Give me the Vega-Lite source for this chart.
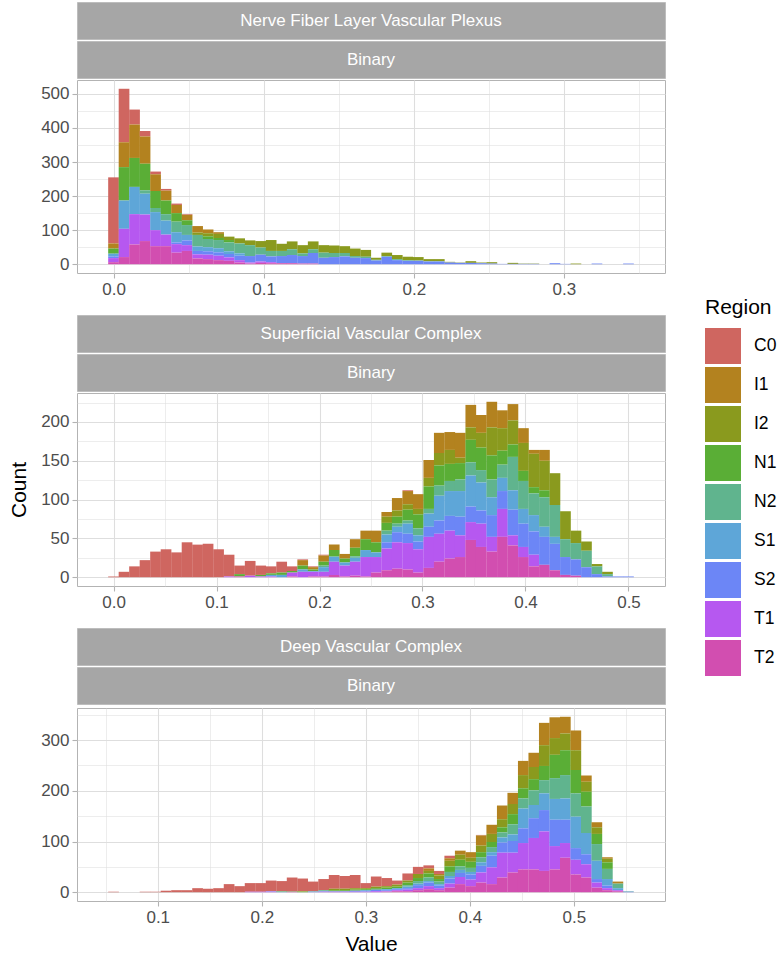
{
"$schema": "https://vega.github.io/schema/vega-lite/v6.json",
"padding": {"left": 7, "top": 1, "right": 0, "bottom": 0},
"spacing": 14,
"config": {
 "font": "Liberation Sans",
 "view": {"stroke": "#B3B3B3", "strokeWidth": 1},
 "axis": {"domain": false, "tickColor": "#B3B3B3", "tickSize": 5, "tickWidth": 1.1, "labelColor": "#4D4D4D", "labelFontSize": 17, "labelPadding": 3, "gridColor": "#DEDEDE", "titleFontSize": 21, "titleFontWeight": "normal", "titleColor": "#000000", "labelOverlap": false, "labelFlush": false},
 "legend": {"orient": "none", "legendX": 628, "legendY": 295, "symbolType": "square", "symbolSize": 1296, "symbolStrokeWidth": 0, "rowPadding": 3, "labelFontSize": 17.5, "labelColor": "#000000", "labelOffset": 13, "titleFontSize": 21, "titleFontWeight": "normal", "titleColor": "#000000", "titlePadding": 10}
},
"datasets": {
"p1": [
{"x":0,"r":"C0","c":194},{"x":0,"r":"I1","c":15},{"x":0,"r":"N1","c":15},{"x":0,"r":"S1","c":8},{"x":0,"r":"S2","c":5},{"x":0,"r":"T1","c":12},{"x":0,"r":"T2","c":6},
{"x":0.007,"r":"C0","c":157},{"x":0.007,"r":"I1","c":73},{"x":0.007,"r":"N1","c":98},{"x":0.007,"r":"S1","c":83},{"x":0.007,"r":"T1","c":83},{"x":0.007,"r":"T2","c":21},
{"x":0.014,"r":"C0","c":44},{"x":0.014,"r":"I1","c":98},{"x":0.014,"r":"N1","c":85},{"x":0.014,"r":"S1","c":80},{"x":0.014,"r":"T1","c":89},{"x":0.014,"r":"T2","c":58},
{"x":0.021,"r":"C0","c":16},{"x":0.021,"r":"I1","c":80},{"x":0.021,"r":"N1","c":78},{"x":0.021,"r":"N2","c":10},{"x":0.021,"r":"S1","c":61},{"x":0.021,"r":"T1","c":78},{"x":0.021,"r":"T2","c":68},
{"x":0.028,"r":"C0","c":8},{"x":0.028,"r":"I1","c":49},{"x":0.028,"r":"N1","c":50},{"x":0.028,"r":"N2","c":12},{"x":0.028,"r":"S1","c":53},{"x":0.028,"r":"T1","c":47},{"x":0.028,"r":"T2","c":53},
{"x":0.035,"r":"C0","c":5},{"x":0.035,"r":"I1","c":29},{"x":0.035,"r":"N1","c":40},{"x":0.035,"r":"N2","c":19},{"x":0.035,"r":"S1","c":41},{"x":0.035,"r":"T1","c":34},{"x":0.035,"r":"T2","c":53},
{"x":0.042,"r":"C0","c":4},{"x":0.042,"r":"I1","c":24},{"x":0.042,"r":"N1","c":25},{"x":0.042,"r":"N2","c":31},{"x":0.042,"r":"S1","c":30},{"x":0.042,"r":"S2","c":5},{"x":0.042,"r":"T1","c":25},{"x":0.042,"r":"T2","c":34},
{"x":0.049,"r":"C0","c":2},{"x":0.049,"r":"I1","c":16},{"x":0.049,"r":"N1","c":14},{"x":0.049,"r":"N2","c":29},{"x":0.049,"r":"S1","c":16},{"x":0.049,"r":"S2","c":14},{"x":0.049,"r":"T1","c":17},{"x":0.049,"r":"T2","c":39},
{"x":0.056,"r":"I1","c":19},{"x":0.056,"r":"I2","c":7},{"x":0.056,"r":"N2","c":34},{"x":0.056,"r":"S1","c":13},{"x":0.056,"r":"S2","c":10},{"x":0.056,"r":"T1","c":12},{"x":0.056,"r":"T2","c":17},
{"x":0.063,"r":"I1","c":11},{"x":0.063,"r":"I2","c":9},{"x":0.063,"r":"N1","c":8},{"x":0.063,"r":"N2","c":24},{"x":0.063,"r":"S1","c":12},{"x":0.063,"r":"S2","c":10},{"x":0.063,"r":"T1","c":13},{"x":0.063,"r":"T2","c":15},
{"x":0.07,"r":"I1","c":5},{"x":0.07,"r":"I2","c":12},{"x":0.07,"r":"N1","c":6},{"x":0.07,"r":"N2","c":24},{"x":0.07,"r":"S1","c":12},{"x":0.07,"r":"S2","c":10},{"x":0.07,"r":"T1","c":13},{"x":0.07,"r":"T2","c":12},
{"x":0.077,"r":"I2","c":10},{"x":0.077,"r":"N1","c":7},{"x":0.077,"r":"N2","c":26},{"x":0.077,"r":"S1","c":8},{"x":0.077,"r":"S2","c":10},{"x":0.077,"r":"T1","c":10},{"x":0.077,"r":"T2","c":10},
{"x":0.084,"r":"I2","c":15},{"x":0.084,"r":"N2","c":29},{"x":0.084,"r":"S1","c":7},{"x":0.084,"r":"S2","c":13},{"x":0.084,"r":"T1","c":7},{"x":0.084,"r":"T2","c":5},
{"x":0.091,"r":"I2","c":14},{"x":0.091,"r":"N2","c":32},{"x":0.091,"r":"S2","c":19},{"x":0.091,"r":"T1","c":3},{"x":0.091,"r":"T2","c":2},
{"x":0.098,"r":"I2","c":19},{"x":0.098,"r":"N2","c":21},{"x":0.098,"r":"S2","c":20},{"x":0.098,"r":"T1","c":4},{"x":0.098,"r":"T2","c":4},
{"x":0.105,"r":"I2","c":32},{"x":0.105,"r":"N2","c":16},{"x":0.105,"r":"S2","c":17},{"x":0.105,"r":"T1","c":3},{"x":0.105,"r":"T2","c":3},
{"x":0.112,"r":"I2","c":21},{"x":0.112,"r":"N2","c":15},{"x":0.112,"r":"S2","c":21},{"x":0.112,"r":"T2","c":3},
{"x":0.119,"r":"I2","c":23},{"x":0.119,"r":"N2","c":17},{"x":0.119,"r":"S2","c":24},{"x":0.119,"r":"T2","c":3},
{"x":0.126,"r":"I2","c":24},{"x":0.126,"r":"N2","c":8},{"x":0.126,"r":"S2","c":22},{"x":0.126,"r":"T2","c":2},
{"x":0.133,"r":"I2","c":23},{"x":0.133,"r":"N2","c":11},{"x":0.133,"r":"S2","c":31},{"x":0.133,"r":"T2","c":2},
{"x":0.14,"r":"I2","c":22},{"x":0.14,"r":"N2","c":15},{"x":0.14,"r":"S2","c":19},
{"x":0.147,"r":"I2","c":22},{"x":0.147,"r":"N2","c":12},{"x":0.147,"r":"S2","c":21},
{"x":0.154,"r":"I2","c":20},{"x":0.154,"r":"N2","c":10},{"x":0.154,"r":"S2","c":23},
{"x":0.161,"r":"I2","c":22},{"x":0.161,"r":"N2","c":5},{"x":0.161,"r":"S2","c":19},
{"x":0.168,"r":"I2","c":20},{"x":0.168,"r":"N2","c":4},{"x":0.168,"r":"S2","c":18},
{"x":0.175,"r":"I2","c":6},{"x":0.175,"r":"N2","c":2},{"x":0.175,"r":"S2","c":11},
{"x":0.182,"r":"I2","c":10},{"x":0.182,"r":"N2","c":2},{"x":0.182,"r":"S2","c":22},
{"x":0.189,"r":"I2","c":12},{"x":0.189,"r":"N2","c":3},{"x":0.189,"r":"S2","c":12},
{"x":0.196,"r":"I2","c":10},{"x":0.196,"r":"N2","c":2},{"x":0.196,"r":"S2","c":10},
{"x":0.203,"r":"I2","c":10},{"x":0.203,"r":"N2","c":1},{"x":0.203,"r":"S2","c":10},
{"x":0.21,"r":"I2","c":6},{"x":0.21,"r":"N2","c":1},{"x":0.21,"r":"S2","c":8},
{"x":0.217,"r":"I2","c":6},{"x":0.217,"r":"N2","c":1},{"x":0.217,"r":"S2","c":8},
{"x":0.224,"r":"I2","c":2},{"x":0.224,"r":"S2","c":5},
{"x":0.231,"r":"I2","c":1},{"x":0.231,"r":"S2","c":4},
{"x":0.238,"r":"I2","c":5},{"x":0.238,"r":"S2","c":4},
{"x":0.245,"r":"I2","c":2},{"x":0.245,"r":"S2","c":3},
{"x":0.252,"r":"I2","c":4},{"x":0.252,"r":"S2","c":2},
{"x":0.259,"r":"S2","c":1},
{"x":0.266,"r":"I2","c":3},{"x":0.266,"r":"S2","c":1},
{"x":0.273,"r":"I2","c":1},{"x":0.273,"r":"S2","c":1},
{"x":0.28,"r":"I2","c":1},{"x":0.28,"r":"S2","c":1},
{"x":0.294,"r":"S2","c":3},
{"x":0.301,"r":"S2","c":1},
{"x":0.308,"r":"I2","c":2},
{"x":0.322,"r":"S2","c":2},
{"x":0.343,"r":"S2","c":2}
],
"p2": [
{"x":0,"r":"C0","c":1},{"x":0.0102,"r":"C0","c":7},{"x":0.0204,"r":"C0","c":14},{"x":0.0306,"r":"C0","c":22},{"x":0.0408,"r":"C0","c":33},{"x":0.051,"r":"C0","c":36},{"x":0.0612,"r":"C0","c":32},{"x":0.0714,"r":"C0","c":45},{"x":0.0816,"r":"C0","c":42},{"x":0.0918,"r":"C0","c":43},{"x":0.102,"r":"C0","c":36},
{"x":0.1122,"r":"C0","c":28},{"x":0.1122,"r":"T1","c":1},
{"x":0.1224,"r":"C0","c":11},{"x":0.1224,"r":"N1","c":3},{"x":0.1224,"r":"T2","c":1},
{"x":0.1327,"r":"C0","c":19},{"x":0.1327,"r":"T1","c":2},
{"x":0.1429,"r":"C0","c":12},{"x":0.1429,"r":"N1","c":2},{"x":0.1429,"r":"T1","c":1},
{"x":0.1531,"r":"C0","c":9},{"x":0.1531,"r":"N1","c":2},{"x":0.1531,"r":"S1","c":2},{"x":0.1531,"r":"T1","c":1},
{"x":0.1633,"r":"C0","c":14},{"x":0.1633,"r":"N1","c":3},{"x":0.1633,"r":"S1","c":3},
{"x":0.1735,"r":"C0","c":6},{"x":0.1735,"r":"N1","c":2},{"x":0.1735,"r":"T1","c":5},{"x":0.1735,"r":"T2","c":1},
{"x":0.1837,"r":"C0","c":1},{"x":0.1837,"r":"I1","c":7},{"x":0.1837,"r":"N1","c":5},{"x":0.1837,"r":"S1","c":3},{"x":0.1837,"r":"T1","c":7},
{"x":0.1939,"r":"C0","c":1},{"x":0.1939,"r":"I1","c":3},{"x":0.1939,"r":"N1","c":2},{"x":0.1939,"r":"S1","c":1},{"x":0.1939,"r":"T1","c":6},{"x":0.1939,"r":"T2","c":1},
{"x":0.2041,"r":"C0","c":1},{"x":0.2041,"r":"I1","c":8},{"x":0.2041,"r":"N1","c":5},{"x":0.2041,"r":"N2","c":2},{"x":0.2041,"r":"S1","c":6},{"x":0.2041,"r":"T1","c":6},{"x":0.2041,"r":"T2","c":1},
{"x":0.2143,"r":"I1","c":7},{"x":0.2143,"r":"N1","c":8},{"x":0.2143,"r":"N2","c":1},{"x":0.2143,"r":"S1","c":6},{"x":0.2143,"r":"T1","c":17},{"x":0.2143,"r":"T2","c":3},
{"x":0.2245,"r":"I1","c":6},{"x":0.2245,"r":"N1","c":5},{"x":0.2245,"r":"S1","c":4},{"x":0.2245,"r":"T1","c":14},{"x":0.2245,"r":"T2","c":1},
{"x":0.2347,"r":"I1","c":11},{"x":0.2347,"r":"N1","c":11},{"x":0.2347,"r":"N2","c":2},{"x":0.2347,"r":"S1","c":5},{"x":0.2347,"r":"T1","c":18},{"x":0.2347,"r":"T2","c":2},
{"x":0.2449,"r":"I1","c":11},{"x":0.2449,"r":"N1","c":14},{"x":0.2449,"r":"S1","c":9},{"x":0.2449,"r":"T1","c":25},{"x":0.2449,"r":"T2","c":1},
{"x":0.2551,"r":"I1","c":15},{"x":0.2551,"r":"N1","c":13},{"x":0.2551,"r":"S1","c":6},{"x":0.2551,"r":"T1","c":20},{"x":0.2551,"r":"T2","c":6},
{"x":0.2653,"r":"I1","c":6},{"x":0.2653,"r":"I2","c":8},{"x":0.2653,"r":"N1","c":10},{"x":0.2653,"r":"N2","c":5},{"x":0.2653,"r":"S1","c":10},{"x":0.2653,"r":"S2","c":8},{"x":0.2653,"r":"T1","c":28},{"x":0.2653,"r":"T2","c":9},
{"x":0.2755,"r":"I1","c":16},{"x":0.2755,"r":"I2","c":8},{"x":0.2755,"r":"N1","c":9},{"x":0.2755,"r":"N2","c":4},{"x":0.2755,"r":"S1","c":7},{"x":0.2755,"r":"S2","c":13},{"x":0.2755,"r":"T1","c":34},{"x":0.2755,"r":"T2","c":11},
{"x":0.2857,"r":"C0","c":1},{"x":0.2857,"r":"I1","c":17},{"x":0.2857,"r":"I2","c":7},{"x":0.2857,"r":"N1","c":14},{"x":0.2857,"r":"N2","c":4},{"x":0.2857,"r":"S1","c":13},{"x":0.2857,"r":"S2","c":12},{"x":0.2857,"r":"T1","c":34},{"x":0.2857,"r":"T2","c":10},
{"x":0.2959,"r":"I1","c":19},{"x":0.2959,"r":"I2","c":7},{"x":0.2959,"r":"N1","c":18},{"x":0.2959,"r":"N2","c":9},{"x":0.2959,"r":"S1","c":8},{"x":0.2959,"r":"S2","c":10},{"x":0.2959,"r":"T1","c":30},{"x":0.2959,"r":"T2","c":6},
{"x":0.3061,"r":"I1","c":23},{"x":0.3061,"r":"I2","c":11},{"x":0.3061,"r":"N1","c":29},{"x":0.3061,"r":"N2","c":6},{"x":0.3061,"r":"S1","c":17},{"x":0.3061,"r":"S2","c":13},{"x":0.3061,"r":"T1","c":40},{"x":0.3061,"r":"T2","c":12},
{"x":0.3163,"r":"I1","c":26},{"x":0.3163,"r":"I2","c":16},{"x":0.3163,"r":"N1","c":26},{"x":0.3163,"r":"N2","c":13},{"x":0.3163,"r":"S1","c":32},{"x":0.3163,"r":"S2","c":17},{"x":0.3163,"r":"T1","c":36},{"x":0.3163,"r":"T2","c":20},
{"x":0.3265,"r":"I1","c":23},{"x":0.3265,"r":"I2","c":18},{"x":0.3265,"r":"N1","c":22},{"x":0.3265,"r":"N2","c":13},{"x":0.3265,"r":"S1","c":32},{"x":0.3265,"r":"S2","c":19},{"x":0.3265,"r":"T1","c":36},{"x":0.3265,"r":"T2","c":24},
{"x":0.3367,"r":"I1","c":32},{"x":0.3367,"r":"I2","c":7},{"x":0.3367,"r":"N1","c":21},{"x":0.3367,"r":"N2","c":15},{"x":0.3367,"r":"S1","c":33},{"x":0.3367,"r":"S2","c":24},{"x":0.3367,"r":"T1","c":28},{"x":0.3367,"r":"T2","c":26},
{"x":0.3469,"r":"I1","c":29},{"x":0.3469,"r":"I2","c":16},{"x":0.3469,"r":"N1","c":29},{"x":0.3469,"r":"N2","c":17},{"x":0.3469,"r":"S1","c":40},{"x":0.3469,"r":"S2","c":20},{"x":0.3469,"r":"T1","c":23},{"x":0.3469,"r":"T2","c":48},
{"x":0.3571,"r":"I1","c":23},{"x":0.3571,"r":"I2","c":19},{"x":0.3571,"r":"N1","c":29},{"x":0.3571,"r":"N2","c":16},{"x":0.3571,"r":"S1","c":36},{"x":0.3571,"r":"S2","c":17},{"x":0.3571,"r":"T1","c":30},{"x":0.3571,"r":"T2","c":39},
{"x":0.3673,"r":"I1","c":33},{"x":0.3673,"r":"I2","c":36},{"x":0.3673,"r":"N1","c":31},{"x":0.3673,"r":"N2","c":23},{"x":0.3673,"r":"S1","c":23},{"x":0.3673,"r":"S2","c":28},{"x":0.3673,"r":"T1","c":19},{"x":0.3673,"r":"T2","c":33},
{"x":0.3776,"r":"I1","c":23},{"x":0.3776,"r":"I2","c":29},{"x":0.3776,"r":"N1","c":18},{"x":0.3776,"r":"N2","c":17},{"x":0.3776,"r":"S1","c":17},{"x":0.3776,"r":"S2","c":23},{"x":0.3776,"r":"T1","c":36},{"x":0.3776,"r":"T2","c":52},
{"x":0.3878,"r":"I1","c":21},{"x":0.3878,"r":"I2","c":31},{"x":0.3878,"r":"N1","c":16},{"x":0.3878,"r":"N2","c":43},{"x":0.3878,"r":"S1","c":25},{"x":0.3878,"r":"S2","c":33},{"x":0.3878,"r":"T1","c":13},{"x":0.3878,"r":"T2","c":41},
{"x":0.398,"r":"I1","c":19},{"x":0.398,"r":"I2","c":36},{"x":0.398,"r":"N1","c":13},{"x":0.398,"r":"N2","c":36},{"x":0.398,"r":"S1","c":19},{"x":0.398,"r":"S2","c":30},{"x":0.398,"r":"T1","c":13},{"x":0.398,"r":"T2","c":26},
{"x":0.4082,"r":"I1","c":5},{"x":0.4082,"r":"I2","c":43},{"x":0.4082,"r":"N1","c":8},{"x":0.4082,"r":"N2","c":28},{"x":0.4082,"r":"S1","c":21},{"x":0.4082,"r":"S2","c":30},{"x":0.4082,"r":"T1","c":15},{"x":0.4082,"r":"T2","c":14},
{"x":0.4184,"r":"I1","c":14},{"x":0.4184,"r":"I2","c":38},{"x":0.4184,"r":"N1","c":9},{"x":0.4184,"r":"N2","c":38},{"x":0.4184,"r":"S1","c":13},{"x":0.4184,"r":"S2","c":36},{"x":0.4184,"r":"T2","c":16},
{"x":0.4286,"r":"I2","c":41},{"x":0.4286,"r":"N2","c":41},{"x":0.4286,"r":"S1","c":9},{"x":0.4286,"r":"S2","c":34},{"x":0.4286,"r":"T2","c":9},
{"x":0.4388,"r":"I2","c":36},{"x":0.4388,"r":"N2","c":23},{"x":0.4388,"r":"S2","c":23},{"x":0.4388,"r":"T2","c":3},
{"x":0.449,"r":"I2","c":16},{"x":0.449,"r":"N2","c":21},{"x":0.449,"r":"S2","c":21},{"x":0.449,"r":"T2","c":2},
{"x":0.4592,"r":"I2","c":12},{"x":0.4592,"r":"N2","c":21},{"x":0.4592,"r":"S2","c":13},
{"x":0.4694,"r":"I2","c":3},{"x":0.4694,"r":"N2","c":10},{"x":0.4694,"r":"S2","c":4},
{"x":0.4796,"r":"I2","c":3},{"x":0.4796,"r":"N2","c":3},{"x":0.4796,"r":"S2","c":1},
{"x":0.4898,"r":"S2","c":1},
{"x":0.5,"r":"S2","c":1}
],
"p3": [
{"x":0.0575,"r":"C0","c":1},{"x":0.0878,"r":"C0","c":1},{"x":0.0979,"r":"C0","c":1},{"x":0.108,"r":"C0","c":3},{"x":0.1181,"r":"C0","c":4},{"x":0.1282,"r":"C0","c":4},{"x":0.1383,"r":"C0","c":8},{"x":0.1484,"r":"C0","c":7},{"x":0.1585,"r":"C0","c":8},{"x":0.1686,"r":"C0","c":16},{"x":0.1787,"r":"C0","c":12},
{"x":0.1888,"r":"C0","c":17},{"x":0.1888,"r":"T1","c":1},
{"x":0.1989,"r":"C0","c":17},{"x":0.1989,"r":"T1","c":1},
{"x":0.209,"r":"C0","c":21},{"x":0.209,"r":"S2","c":1},{"x":0.209,"r":"T1","c":1},
{"x":0.2191,"r":"C0","c":20},{"x":0.2191,"r":"N1","c":1},{"x":0.2191,"r":"S1","c":1},
{"x":0.2292,"r":"C0","c":27},{"x":0.2292,"r":"N1","c":1},{"x":0.2292,"r":"T2","c":1},
{"x":0.2393,"r":"C0","c":25},{"x":0.2393,"r":"I2","c":1},{"x":0.2393,"r":"N1","c":1},
{"x":0.2494,"r":"C0","c":19},{"x":0.2494,"r":"N2","c":1},{"x":0.2494,"r":"S2","c":1},
{"x":0.2595,"r":"C0","c":22},{"x":0.2595,"r":"N2","c":2},{"x":0.2595,"r":"S2","c":1},{"x":0.2595,"r":"T1","c":1},
{"x":0.2696,"r":"C0","c":27},{"x":0.2696,"r":"I2","c":3},{"x":0.2696,"r":"N1","c":2},{"x":0.2696,"r":"S2","c":1},{"x":0.2696,"r":"T1","c":1},
{"x":0.2797,"r":"C0","c":25},{"x":0.2797,"r":"I2","c":3},{"x":0.2797,"r":"N1","c":2},{"x":0.2797,"r":"S2","c":1},{"x":0.2797,"r":"T1","c":1},
{"x":0.2898,"r":"C0","c":26},{"x":0.2898,"r":"I2","c":3},{"x":0.2898,"r":"N1","c":2},{"x":0.2898,"r":"S2","c":2},{"x":0.2898,"r":"T1","c":1},
{"x":0.2999,"r":"C0","c":10},{"x":0.2999,"r":"I2","c":2},{"x":0.2999,"r":"N1","c":2},{"x":0.2999,"r":"S1","c":2},{"x":0.2999,"r":"S2","c":1},{"x":0.2999,"r":"T1","c":1},
{"x":0.31,"r":"C0","c":20},{"x":0.31,"r":"I2","c":3},{"x":0.31,"r":"N1","c":3},{"x":0.31,"r":"S2","c":3},{"x":0.31,"r":"T1","c":2},
{"x":0.3201,"r":"C0","c":16},{"x":0.3201,"r":"I2","c":3},{"x":0.3201,"r":"N1","c":3},{"x":0.3201,"r":"S1","c":2},{"x":0.3201,"r":"S2","c":2},{"x":0.3201,"r":"T1","c":1},{"x":0.3201,"r":"T2","c":1},
{"x":0.3302,"r":"C0","c":8},{"x":0.3302,"r":"I2","c":4},{"x":0.3302,"r":"N1","c":3},{"x":0.3302,"r":"S1","c":2},{"x":0.3302,"r":"S2","c":2},{"x":0.3302,"r":"T1","c":2},{"x":0.3302,"r":"T2","c":2},
{"x":0.3403,"r":"C0","c":14},{"x":0.3403,"r":"I2","c":4},{"x":0.3403,"r":"N1","c":5},{"x":0.3403,"r":"N2","c":3},{"x":0.3403,"r":"S1","c":3},{"x":0.3403,"r":"S2","c":3},{"x":0.3403,"r":"T1","c":3},{"x":0.3403,"r":"T2","c":2},
{"x":0.3504,"r":"C0","c":14},{"x":0.3504,"r":"I2","c":8},{"x":0.3504,"r":"N1","c":6},{"x":0.3504,"r":"N2","c":5},{"x":0.3504,"r":"S1","c":3},{"x":0.3504,"r":"S2","c":6},{"x":0.3504,"r":"T1","c":4},{"x":0.3504,"r":"T2","c":4},
{"x":0.3605,"r":"C0","c":6},{"x":0.3605,"r":"I1","c":5},{"x":0.3605,"r":"I2","c":5},{"x":0.3605,"r":"N1","c":8},{"x":0.3605,"r":"N2","c":7},{"x":0.3605,"r":"S1","c":3},{"x":0.3605,"r":"S2","c":7},{"x":0.3605,"r":"T1","c":6},{"x":0.3605,"r":"T2","c":6},
{"x":0.3706,"r":"C0","c":6},{"x":0.3706,"r":"I1","c":3},{"x":0.3706,"r":"I2","c":7},{"x":0.3706,"r":"N1","c":5},{"x":0.3706,"r":"N2","c":5},{"x":0.3706,"r":"S1","c":3},{"x":0.3706,"r":"S2","c":5},{"x":0.3706,"r":"T1","c":4},{"x":0.3706,"r":"T2","c":4},
{"x":0.3807,"r":"C0","c":5},{"x":0.3807,"r":"I1","c":5},{"x":0.3807,"r":"I2","c":11},{"x":0.3807,"r":"N1","c":11},{"x":0.3807,"r":"N2","c":8},{"x":0.3807,"r":"S1","c":5},{"x":0.3807,"r":"S2","c":10},{"x":0.3807,"r":"T1","c":8},{"x":0.3807,"r":"T2","c":9},
{"x":0.3908,"r":"I1","c":8},{"x":0.3908,"r":"I2","c":10},{"x":0.3908,"r":"N1","c":13},{"x":0.3908,"r":"N2","c":7},{"x":0.3908,"r":"S1","c":6},{"x":0.3908,"r":"S2","c":8},{"x":0.3908,"r":"T1","c":14},{"x":0.3908,"r":"T2","c":16},
{"x":0.4009,"r":"I1","c":11},{"x":0.4009,"r":"I2","c":8},{"x":0.4009,"r":"N1","c":12},{"x":0.4009,"r":"N2","c":8},{"x":0.4009,"r":"S1","c":5},{"x":0.4009,"r":"S2","c":10},{"x":0.4009,"r":"T1","c":13},{"x":0.4009,"r":"T2","c":12},
{"x":0.411,"r":"C0","c":1},{"x":0.411,"r":"I1","c":20},{"x":0.411,"r":"I2","c":13},{"x":0.411,"r":"N1","c":10},{"x":0.411,"r":"N2","c":10},{"x":0.411,"r":"S1","c":7},{"x":0.411,"r":"S2","c":13},{"x":0.411,"r":"T1","c":20},{"x":0.411,"r":"T2","c":19},
{"x":0.4211,"r":"I1","c":18},{"x":0.4211,"r":"I2","c":16},{"x":0.4211,"r":"N1","c":10},{"x":0.4211,"r":"N2","c":10},{"x":0.4211,"r":"S1","c":7},{"x":0.4211,"r":"S2","c":23},{"x":0.4211,"r":"T1","c":33},{"x":0.4211,"r":"T2","c":16},
{"x":0.4312,"r":"I1","c":27},{"x":0.4312,"r":"I2","c":16},{"x":0.4312,"r":"N1","c":10},{"x":0.4312,"r":"N2","c":10},{"x":0.4312,"r":"S1","c":10},{"x":0.4312,"r":"S2","c":20},{"x":0.4312,"r":"T1","c":49},{"x":0.4312,"r":"T2","c":29},
{"x":0.4413,"r":"I1","c":22},{"x":0.4413,"r":"I2","c":20},{"x":0.4413,"r":"N1","c":20},{"x":0.4413,"r":"N2","c":20},{"x":0.4413,"r":"S1","c":13},{"x":0.4413,"r":"S2","c":23},{"x":0.4413,"r":"T1","c":39},{"x":0.4413,"r":"T2","c":39},
{"x":0.4514,"r":"I1","c":28},{"x":0.4514,"r":"I2","c":26},{"x":0.4514,"r":"N1","c":20},{"x":0.4514,"r":"N2","c":20},{"x":0.4514,"r":"S1","c":39},{"x":0.4514,"r":"S2","c":29},{"x":0.4514,"r":"T1","c":52},{"x":0.4514,"r":"T2","c":45},
{"x":0.4615,"r":"I1","c":28},{"x":0.4615,"r":"I2","c":24},{"x":0.4615,"r":"N1","c":22},{"x":0.4615,"r":"N2","c":29},{"x":0.4615,"r":"S1","c":26},{"x":0.4615,"r":"S2","c":39},{"x":0.4615,"r":"T1","c":62},{"x":0.4615,"r":"T2","c":45},
{"x":0.4716,"r":"I1","c":44},{"x":0.4716,"r":"I2","c":41},{"x":0.4716,"r":"N1","c":28},{"x":0.4716,"r":"N2","c":26},{"x":0.4716,"r":"S1","c":33},{"x":0.4716,"r":"S2","c":42},{"x":0.4716,"r":"T1","c":78},{"x":0.4716,"r":"T2","c":42},
{"x":0.4817,"r":"I1","c":41},{"x":0.4817,"r":"I2","c":33},{"x":0.4817,"r":"N1","c":46},{"x":0.4817,"r":"N2","c":41},{"x":0.4817,"r":"S1","c":41},{"x":0.4817,"r":"S2","c":52},{"x":0.4817,"r":"T1","c":46},{"x":0.4817,"r":"T2","c":45},
{"x":0.4918,"r":"I1","c":33},{"x":0.4918,"r":"I2","c":33},{"x":0.4918,"r":"N1","c":49},{"x":0.4918,"r":"N2","c":46},{"x":0.4918,"r":"S1","c":42},{"x":0.4918,"r":"S2","c":46},{"x":0.4918,"r":"T1","c":29},{"x":0.4918,"r":"T2","c":68},
{"x":0.5019,"r":"I1","c":39},{"x":0.5019,"r":"I2","c":39},{"x":0.5019,"r":"N1","c":46},{"x":0.5019,"r":"N2","c":46},{"x":0.5019,"r":"S1","c":62},{"x":0.5019,"r":"S2","c":23},{"x":0.5019,"r":"T1","c":29},{"x":0.5019,"r":"T2","c":35},
{"x":0.512,"r":"I1","c":12},{"x":0.512,"r":"I2","c":20},{"x":0.512,"r":"N1","c":29},{"x":0.512,"r":"N2","c":52},{"x":0.512,"r":"S1","c":42},{"x":0.512,"r":"S2","c":20},{"x":0.512,"r":"T1","c":26},{"x":0.512,"r":"T2","c":29},
{"x":0.5221,"r":"I1","c":10},{"x":0.5221,"r":"I2","c":13},{"x":0.5221,"r":"N1","c":20},{"x":0.5221,"r":"N2","c":33},{"x":0.5221,"r":"S1","c":36},{"x":0.5221,"r":"S2","c":7},{"x":0.5221,"r":"T1","c":10},{"x":0.5221,"r":"T2","c":9},
{"x":0.5322,"r":"I1","c":3},{"x":0.5322,"r":"I2","c":7},{"x":0.5322,"r":"N1","c":13},{"x":0.5322,"r":"N2","c":20},{"x":0.5322,"r":"S1","c":13},{"x":0.5322,"r":"S2","c":5},{"x":0.5322,"r":"T1","c":4},{"x":0.5322,"r":"T2","c":4},
{"x":0.5423,"r":"I1","c":4},{"x":0.5423,"r":"N2","c":9},{"x":0.5423,"r":"S1","c":4},{"x":0.5423,"r":"T1","c":2},{"x":0.5423,"r":"T2","c":2},
{"x":0.5524,"r":"N2","c":1},{"x":0.5524,"r":"S2","c":1}
]
},
"vconcat": [
{"spacing": 0, "vconcat": [
 {"width": 588, "height": 37, "view": {"fill": "#A6A6A6", "stroke": "#BDBDBD"}, "data": {"values": [{"t": "Nerve Fiber Layer Vascular Plexus"}]}, "mark": {"type": "text", "color": "white", "fontSize": 17}, "encoding": {"text": {"field": "t"}}},
 {"width": 588, "height": 37, "view": {"fill": "#A6A6A6", "stroke": "#BDBDBD"}, "data": {"values": [{"t": "Binary"}]}, "mark": {"type": "text", "color": "white", "fontSize": 17}, "encoding": {"text": {"field": "t"}}},
 {"width": 588, "height": 193, "data": {"name": "p1"}, "mark": {"type": "bar", "width": 10.7},
  "encoding": {
   "x": {"field": "x", "type": "quantitative", "scale": {"domain": [-0.021, 0.364], "nice": false, "zero": false},
     "axis": {"title": null, "values": [0,0.05,0.1,0.15,0.2,0.25,0.3,0.35], "minExtent": 26, "maxExtent": 26,
       "labelExpr": "abs(datum.value*10 - round(datum.value*10)) < 1e-6 ? format(datum.value, '.1f') : ''",
       "tickOpacity": {"condition": {"test": "abs(datum.value*10 - round(datum.value*10)) < 1e-6", "value": 1}, "value": 0},
       "gridWidth": {"condition": {"test": "abs(datum.value*10 - round(datum.value*10)) < 1e-6", "value": 1.1}, "value": 0.55}}},
   "y": {"field": "c", "type": "quantitative", "stack": "zero", "scale": {"domain": [-25.75, 540.75], "nice": false, "zero": false},
     "axis": {"title": "Count", "titleOpacity": 0, "titlePadding": 6, "values": [0,50,100,150,200,250,300,350,400,450,500], "minExtent": 42, "maxExtent": 42,
       "labelExpr": "datum.value % 100 == 0 ? format(datum.value, 'd') : ''",
       "tickOpacity": {"condition": {"test": "datum.value % 100 == 0", "value": 1}, "value": 0},
       "gridWidth": {"condition": {"test": "datum.value % 100 == 0", "value": 1.1}, "value": 0.55}}},
   "color": {"field": "r", "type": "nominal", "title": "Region", "scale": {"domain": ["C0","I1","I2","N1","N2","S1","S2","T1","T2"], "range": ["#CF6660","#B3821F","#8A9A1E","#5AAE36","#60B48E","#5EA6D8","#6C86F6","#B658F0","#D24EB0"]}},
   "order": {"field": "r", "sort": "descending"}
  }}
]},
{"spacing": 0, "vconcat": [
 {"width": 588, "height": 37, "view": {"fill": "#A6A6A6", "stroke": "#BDBDBD"}, "data": {"values": [{"t": "Superficial Vascular Complex"}]}, "mark": {"type": "text", "color": "white", "fontSize": 17}, "encoding": {"text": {"field": "t"}}},
 {"width": 588, "height": 37, "view": {"fill": "#A6A6A6", "stroke": "#BDBDBD"}, "data": {"values": [{"t": "Binary"}]}, "mark": {"type": "text", "color": "white", "fontSize": 17}, "encoding": {"text": {"field": "t"}}},
 {"width": 588, "height": 193, "data": {"name": "p2"}, "mark": {"type": "bar", "width": 10.7},
  "encoding": {
   "x": {"field": "x", "type": "quantitative", "scale": {"domain": [-0.0306, 0.5306], "nice": false, "zero": false},
     "axis": {"title": null, "values": [0,0.05,0.1,0.15,0.2,0.25,0.3,0.35,0.4,0.45,0.5], "minExtent": 26, "maxExtent": 26,
       "labelExpr": "abs(datum.value*10 - round(datum.value*10)) < 1e-6 ? format(datum.value, '.1f') : ''",
       "tickOpacity": {"condition": {"test": "abs(datum.value*10 - round(datum.value*10)) < 1e-6", "value": 1}, "value": 0},
       "gridWidth": {"condition": {"test": "abs(datum.value*10 - round(datum.value*10)) < 1e-6", "value": 1.1}, "value": 0.55}}},
   "y": {"field": "c", "type": "quantitative", "stack": "zero", "scale": {"domain": [-11.3, 237.3], "nice": false, "zero": false},
     "axis": {"title": "Count", "titlePadding": 6, "values": [0,25,50,75,100,125,150,175,200,225], "minExtent": 42, "maxExtent": 42,
       "labelExpr": "datum.value % 50 == 0 ? format(datum.value, 'd') : ''",
       "tickOpacity": {"condition": {"test": "datum.value % 50 == 0", "value": 1}, "value": 0},
       "gridWidth": {"condition": {"test": "datum.value % 50 == 0", "value": 1.1}, "value": 0.55}}},
   "color": {"field": "r", "type": "nominal", "title": "Region", "scale": {"domain": ["C0","I1","I2","N1","N2","S1","S2","T1","T2"], "range": ["#CF6660","#B3821F","#8A9A1E","#5AAE36","#60B48E","#5EA6D8","#6C86F6","#B658F0","#D24EB0"]}},
   "order": {"field": "r", "sort": "descending"}
  }}
]},
{"spacing": 0, "vconcat": [
 {"width": 588, "height": 37, "view": {"fill": "#A6A6A6", "stroke": "#BDBDBD"}, "data": {"values": [{"t": "Deep Vascular Complex"}]}, "mark": {"type": "text", "color": "white", "fontSize": 17}, "encoding": {"text": {"field": "t"}}},
 {"width": 588, "height": 37, "view": {"fill": "#A6A6A6", "stroke": "#BDBDBD"}, "data": {"values": [{"t": "Binary"}]}, "mark": {"type": "text", "color": "white", "fontSize": 17}, "encoding": {"text": {"field": "t"}}},
 {"width": 588, "height": 193, "data": {"name": "p3"}, "mark": {"type": "bar", "width": 10.7},
  "encoding": {
   "x": {"field": "x", "type": "quantitative", "scale": {"domain": [0.0272, 0.5828], "nice": false, "zero": false},
     "axis": {"title": "Value", "titlePadding": 6, "values": [0.05,0.1,0.15,0.2,0.25,0.3,0.35,0.4,0.45,0.5,0.55], "minExtent": 26, "maxExtent": 26,
       "labelExpr": "abs(datum.value*10 - round(datum.value*10)) < 1e-6 ? format(datum.value, '.1f') : ''",
       "tickOpacity": {"condition": {"test": "abs(datum.value*10 - round(datum.value*10)) < 1e-6", "value": 1}, "value": 0},
       "gridWidth": {"condition": {"test": "abs(datum.value*10 - round(datum.value*10)) < 1e-6", "value": 1.1}, "value": 0.55}}},
   "y": {"field": "c", "type": "quantitative", "stack": "zero", "scale": {"domain": [-17.3, 363.3], "nice": false, "zero": false},
     "axis": {"title": "Count", "titleOpacity": 0, "titlePadding": 6, "values": [0,50,100,150,200,250,300,350], "minExtent": 42, "maxExtent": 42,
       "labelExpr": "datum.value % 100 == 0 ? format(datum.value, 'd') : ''",
       "tickOpacity": {"condition": {"test": "datum.value % 100 == 0", "value": 1}, "value": 0},
       "gridWidth": {"condition": {"test": "datum.value % 100 == 0", "value": 1.1}, "value": 0.55}}},
   "color": {"field": "r", "type": "nominal", "title": "Region", "scale": {"domain": ["C0","I1","I2","N1","N2","S1","S2","T1","T2"], "range": ["#CF6660","#B3821F","#8A9A1E","#5AAE36","#60B48E","#5EA6D8","#6C86F6","#B658F0","#D24EB0"]}},
   "order": {"field": "r", "sort": "descending"}
  }}
]}
]
}
